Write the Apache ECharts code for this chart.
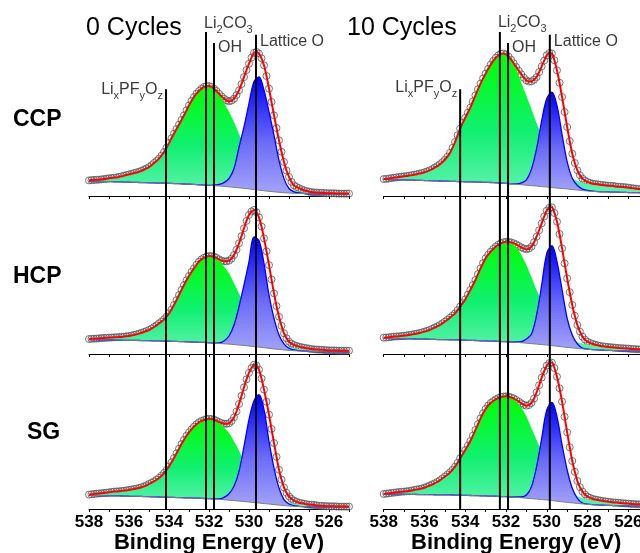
<!DOCTYPE html>
<html><head><meta charset="utf-8">
<script src="https://cdn.jsdelivr.net/npm/echarts@6/dist/echarts.min.js"></script>
<style>html,body{margin:0;padding:0;background:#fff}#c{width:640px;height:553px}</style>
</head><body><div id="c"></div>
<script>
// ---------------- data ----------------
// energy grid of the fitted components (eV)
const energy = [538,537.75,537.5,537.25,537,536.75,536.5,536.25,536,535.75,535.5,535.25,535,534.75,534.5,534.25,534,533.75,533.5,533.25,533,532.75,532.5,532.25,532,531.75,531.5,531.25,531,530.75,530.5,530.25,530,529.75,529.5,529.25,529,528.75,528.5,528.25,528,527.75,527.5,527.25,527,526.75,526.5,526.25,526,525.75,525.5,525.25,525];
// energy grid of the measured points (eV)
const energyMeas = [538,537.875,537.75,537.625,537.5,537.375,537.25,537.125,537,536.875,536.75,536.625,536.5,536.375,536.25,536.125,536,535.875,535.75,535.625,535.5,535.375,535.25,535.125,535,534.875,534.75,534.625,534.5,534.375,534.25,534.125,534,533.875,533.75,533.625,533.5,533.375,533.25,533.125,533,532.875,532.75,532.625,532.5,532.375,532.25,532.125,532,531.875,531.75,531.625,531.5,531.375,531.25,531.125,531,530.875,530.75,530.625,530.5,530.375,530.25,530.125,530,529.875,529.75,529.625,529.5,529.375,529.25,529.125,529,528.875,528.75,528.625,528.5,528.375,528.25,528.125,528,527.875,527.75,527.625,527.5,527.375,527.25,527.125,527,526.875,526.75,526.625,526.5,526.375,526.25,526.125,526,525.875,525.75,525.625,525.5,525.375,525.25,525.125,525];

// CCP, 0 cycles
const measA = [10.4,10.6,10.7,10.8,10.9,11.1,11.3,11.5,11.8,12.0,12.2,12.4,12.7,13.1,13.6,14.0,14.4,14.8,15.3,15.7,16.2,16.8,17.6,18.4,19.3,20.5,22.0,23.3,24.9,26.9,29.3,32.2,35.3,38.5,41.6,44.6,47.6,50.7,53.8,57.1,60.4,63.4,66.0,68.2,70.0,71.6,72.7,73.2,73.3,72.7,71.6,70.0,68.2,66.4,64.9,63.8,63.1,63.6,64.9,67.3,70.4,74.6,79.3,84.0,88.2,92.3,95.5,96.0,95.0,91.8,87.1,80.0,71.6,62.7,53.8,45.3,37.1,29.5,22.7,17.0,12.7,9.4,7.1,6.0,5.3,4.5,3.8,3.3,2.9,2.6,2.4,2.3,2.2,2.1,2.0,1.9,1.8,1.8,1.8,1.7,1.6,1.6,1.6,1.6,1.6];
const bgA = [10.0,9.9,9.8,9.7,9.6,9.5,9.4,9.3,9.2,9.1,9.0,8.9,8.8,8.7,8.6,8.5,8.4,8.3,8.2,8.0,7.9,7.7,7.5,7.3,7.1,6.9,6.7,6.4,6.1,5.8,5.5,5.1,4.7,4.3,3.9,3.5,3.1,2.8,2.5,2.2,2.0,1.8,1.7,1.6,1.5,1.5,1.5,1.5,1.4,1.4,1.4,1.4,1.4];
const greenA = [0.4,0.8,1.1,1.6,2.2,2.7,3.3,4.3,5.2,6.2,7.2,8.7,10.5,13.3,16.3,20.8,26.9,33.3,39.4,45.8,52.5,58.3,62.5,65.4,66.2,64.5,61.5,56,50,43.5,36,29,22,16,11,8,6,4.5,3.5,2.8,2.2,1.7,1.3,1.0,0.8,0.6,0.5,0.4,0.3,0.2,0.2,0.1,0.1];
const blueA = [0,0,0,0,0,0,0,0,0,0,0,0,0,0,0,0,0,0,0,0,0,0,0,0,0,0.3,1.0,2.5,5.5,12.5,27,41,57,72,75.5,67,53,37.6,21.3,9.4,3.0,1.0,0.4,0.1,0,0,0,0,0,0,0,0,0];

// CCP, 10 cycles
const measB = [11.3,11.4,11.6,11.9,12.2,12.4,12.7,12.9,13.1,13.3,13.6,13.9,14.2,14.5,14.9,15.3,15.8,16.4,17.1,17.9,18.9,19.9,21.1,22.5,24.2,26.2,28.7,32.1,36.0,40.5,44.9,48.7,52.2,55.5,58.9,63.0,67.1,71.1,74.9,78.4,81.6,84.8,87.6,90.1,92.2,93.8,94.9,95.0,94.4,92.9,90.9,88.5,86.0,83.5,81.1,78.9,77.1,76.3,76.4,77.5,79.3,82.6,86.4,90.3,93.8,95.3,95.0,90.5,83.8,75.5,66.0,56.0,46.0,36.6,28.2,22.0,17.1,13.9,11.6,10.3,9.3,8.7,8.2,8.0,7.8,7.5,7.3,7.1,6.9,6.8,6.7,6.4,6.2,6.1,6.0,5.8,5.6,5.3,5.1,4.9,4.7,4.5,4.4,4.3,4.2];
const bgB = [11.1,11.0,10.9,10.8,10.7,10.6,10.5,10.4,10.3,10.2,10.1,10.0,9.9,9.8,9.7,9.6,9.5,9.4,9.3,9.2,9.1,9.0,8.8,8.6,8.4,8.1,7.8,7.5,7.2,6.9,6.6,6.3,6.0,5.6,5.3,5.0,4.7,4.3,4.0,3.6,3.3,3.1,2.9,2.8,2.7,2.6,2.5,2.4,2.3,2.2,2.2,2.1,2.1];
const greenB = [0.2,0.6,1.3,1.9,2.4,3.0,3.7,4.5,5.5,6.9,8.8,11.1,14.3,18.9,26.3,35.3,42.7,49.5,57.8,65.7,72.5,78.6,83.4,86.3,86.0,82,77,68,59.5,51,42,34,27,21,16,12,9.5,7.5,6.2,5.3,4.8,4.4,4.1,3.8,3.6,3.4,3.1,2.9,2.7,2.4,2.1,1.9,1.7];
const blueB = [0,0,0,0,0,0,0,0,0,0,0,0,0,0,0,0,0,0,0,0,0,0,0,0,0,0,0.3,1.2,3.5,11,25,44,59,63.7,55,36,18,7.5,3.0,1.0,0.4,0.1,0,0,0,0,0,0,0,0,0,0,0];

// HCP, 0 cycles
const measC = [10.0,10.1,10.2,10.3,10.4,10.6,10.7,10.8,10.9,11.0,11.1,11.2,11.3,11.4,11.6,11.8,12.0,12.3,12.7,13.1,13.6,14.1,14.7,15.3,16.0,16.9,18.0,19.1,20.4,21.6,23.1,24.9,27.1,29.7,32.7,35.9,39.3,42.7,46.0,49.1,52.0,54.7,57.1,59.5,61.6,63.1,64.2,64.9,65.3,65.2,64.9,64.1,63.1,62.3,61.8,61.8,62.2,63.6,66.0,69.5,73.8,78.6,83.8,88.7,92.7,95.0,96.0,94.5,91.1,85.0,77.1,68.5,59.3,49.7,40.4,32.0,24.9,18.8,13.8,10.5,8.2,6.9,6.0,5.4,4.9,4.5,4.2,3.9,3.6,3.3,3.1,3.0,2.9,2.8,2.7,2.5,2.4,2.4,2.4,2.3,2.2,2.2,2.2,2.2,2.2];
const bgC = [9.6,9.55,9.5,9.4,9.35,9.3,9.2,9.15,9.1,9.05,9.0,8.9,8.85,8.8,8.7,8.6,8.5,8.4,8.3,8.2,8.1,7.9,7.8,7.7,7.5,7.3,7.1,6.8,6.6,6.3,6.0,5.7,5.3,5.0,4.6,4.2,3.8,3.4,3.1,2.7,2.4,2.2,2.0,1.9,1.8,1.7,1.6,1.5,1.5,1.4,1.4,1.3,1.3];
const greenC = [0.4,0.65,0.9,1.3,1.55,1.8,2.1,2.45,2.9,3.65,4.6,5.8,7.15,9.2,11.7,14.5,18.6,24.3,31.0,37.8,43.9,49.2,53.8,56.5,57.8,57.6,55.5,51.5,47.2,40.8,34.4,28,22,16,11.5,8.5,6.5,5.0,3.8,3.0,2.3,1.8,1.4,1.1,0.9,0.8,0.7,0.6,0.5,0.5,0.4,0.4,0.4];
const blueC = [0,0,0,0,0,0,0,0,0,0,0,0,0,0,0,0,0,0,0,0,0,0,0,0,0,0,0.3,1.9,5.4,13,25.6,40.3,56.3,73,71,56.2,35.5,20.4,9.6,4.0,1.4,0.5,0.2,0,0,0,0,0,0,0,0,0,0];

// HCP, 10 cycles
const measD = [10.9,11.0,11.1,11.4,11.6,11.7,11.8,12.0,12.2,12.4,12.7,13.0,13.3,13.6,14.0,14.4,14.9,15.4,16.0,16.8,17.6,18.4,19.3,20.4,21.6,22.8,24.2,25.6,27.1,29.2,31.6,33.9,36.4,39.5,42.7,46.0,49.3,53.2,57.1,60.6,63.8,66.2,68.2,70.0,71.6,72.9,73.8,74.5,74.9,74.8,74.4,73.8,73.1,72.1,71.1,70.3,69.8,70.3,71.6,74.5,78.2,82.5,87.1,91.7,95.6,97.4,97.8,94.0,88.2,80.0,70.4,60.4,50.4,41.2,32.7,25.5,19.3,14.9,11.6,9.6,8.2,7.3,6.7,6.2,5.8,5.4,5.1,4.9,4.7,4.5,4.4,4.2,4.0,3.9,3.8,3.7,3.6,3.4,3.3,3.2,3.1,3.1,3.1,3.0,2.9];
const bgD = [10.4,10.35,10.3,10.2,10.15,10.1,10.0,9.9,9.85,9.8,9.7,9.6,9.55,9.5,9.4,9.3,9.2,9.1,9.0,8.8,8.7,8.6,8.5,8.3,8.2,8.0,7.8,7.5,7.2,6.9,6.6,6.3,6.0,5.6,5.2,4.8,4.4,4.1,3.7,3.4,3.1,2.9,2.7,2.5,2.4,2.3,2.2,2.1,2.0,1.9,1.9,1.8,1.8];
const greenD = [0.5,0.75,1.3,1.6,2.05,2.6,3.3,4.1,5.05,6.2,7.9,9.7,12.05,14.7,17.7,22.3,27.2,33.6,40.3,48.3,55.1,59.6,63.1,65.5,66.7,66.0,63.3,58.5,52.1,44.2,36.1,29,22,16,11.5,8.5,6.5,5.0,4.2,3.6,3.2,2.9,2.6,2.3,2.1,1.9,1.7,1.5,1.4,1.3,1.2,1.1,1.0];
const blueD = [0,0,0,0,0,0,0,0,0,0,0,0,0,0,0,0,0,0,0,0,0,0,0,0,0,0,0.2,0.7,2.8,6.4,19.4,39.7,61.1,66.6,56.4,37.9,19.4,8.6,3.0,0.6,0.2,0,0,0,0,0,0,0,0,0,0,0,0];

// SG, 0 cycles
const measE = [9.6,9.8,10.0,10.2,10.4,10.5,10.7,10.9,11.1,11.4,11.6,11.7,11.8,12.0,12.2,12.4,12.7,13.0,13.3,13.6,14.0,14.5,15.1,15.8,16.7,17.5,18.4,19.5,20.7,22.2,24.0,26.0,28.4,31.1,34.0,37.1,40.2,43.3,46.2,48.8,51.1,53.1,54.9,56.5,57.8,58.7,59.3,59.9,60.2,60.0,59.6,58.8,58.0,57.3,56.9,56.8,57.1,58.6,61.1,65.0,70.0,75.5,81.1,86.4,90.7,94.0,96.2,95.6,92.9,87.0,79.6,71.5,62.9,53.4,44.0,34.8,26.2,19.6,14.4,10.8,8.4,6.8,5.6,4.8,4.2,3.9,3.6,3.2,2.9,2.8,2.7,2.4,2.2,2.1,2.0,1.9,1.8,1.8,1.8,1.7,1.6,1.6,1.6,1.6,1.6];
const bgE = [9.1,9.05,9.0,8.9,8.8,8.75,8.7,8.6,8.5,8.45,8.4,8.3,8.2,8.1,8.0,7.9,7.8,7.7,7.6,7.5,7.4,7.3,7.2,7.0,6.9,6.7,6.4,6.2,5.9,5.6,5.3,5.0,4.7,4.3,4.0,3.6,3.3,3.0,2.6,2.3,2.0,1.8,1.7,1.6,1.5,1.4,1.3,1.3,1.2,1.2,1.1,1.1,1.1];
const greenE = [0.5,0.95,1.4,1.8,2.3,2.85,3.1,3.6,4.2,4.85,5.6,6.8,8.5,10.3,12.7,16.1,20.6,26.3,32.6,38.7,43.7,47.6,50.6,52.3,53.3,52.9,50.9,48.2,44.8,39.5,33.6,27,21,15.5,11,8,6,4.6,3.6,2.8,2.2,1.8,1.4,1.1,0.9,0.8,0.7,0.6,0.5,0.5,0.4,0.4,0.4];
const blueE = [0,0,0,0,0,0,0,0,0,0,0,0,0,0,0,0,0,0,0,0,0,0,0,0,0,0,0.3,1.6,4.3,9.5,19.8,36.8,54.9,67.9,72.2,62.6,41.8,24.3,11.4,3.9,1.3,0.4,0.1,0,0,0,0,0,0,0,0,0,0];

// SG, 10 cycles
const measF = [10.0,10.2,10.4,10.7,10.9,11.1,11.3,11.5,11.6,11.8,12.0,12.3,12.7,13.0,13.3,13.7,14.2,14.9,15.6,16.3,17.1,18.0,19.1,20.3,21.6,22.9,24.4,26.1,28.2,30.8,33.8,36.5,39.3,42.2,45.3,48.9,52.7,56.6,60.4,63.8,66.7,69.0,70.7,72.0,73.1,74.0,74.7,75.0,75.1,74.9,74.4,73.7,72.7,71.6,70.4,69.4,68.9,69.3,70.7,73.6,77.8,82.5,87.6,92.0,95.6,97.3,97.6,94.0,88.2,80.5,71.6,61.5,51.1,41.2,32.0,24.8,18.7,14.6,11.6,9.7,8.2,7.4,6.7,6.3,6.0,5.6,5.3,5.1,4.9,4.6,4.4,4.3,4.2,4.0,3.8,3.7,3.6,3.4,3.3,3.2,3.1,3.1,3.1,3.0,2.9];
const bgF = [10.0,9.95,9.9,9.85,9.8,9.75,9.7,9.65,9.6,9.55,9.5,9.45,9.4,9.35,9.3,9.2,9.1,9.0,8.9,8.8,8.7,8.6,8.5,8.3,8.2,8.0,7.8,7.5,7.2,6.9,6.6,6.3,6.0,5.6,5.2,4.8,4.4,4.1,3.7,3.4,3.1,2.9,2.7,2.5,2.4,2.3,2.2,2.1,2.0,1.9,1.9,1.8,1.8];
const greenF = [0,0.45,1.0,1.45,1.8,2.25,3.0,3.65,4.6,6.05,7.6,9.65,12.2,15.05,18.9,24.6,30.2,36.3,43.8,51.6,58.0,62.1,64.6,66.4,66.9,66.4,63.8,60.1,54.4,46.9,39.4,32,25,19,14,10.5,8,6.2,4.8,4.0,3.5,3.2,3.0,2.7,2.5,2.3,2.2,1.9,1.8,1.5,1.3,1.3,1.1];
const blueF = [0,0,0,0,0,0,0,0,0,0,0,0,0,0,0,0,0,0,0,0,0,0,0,0,0,0,0.2,0.5,2.1,8,21.6,40.8,60,65.5,56.4,37.9,21.6,9.7,3.4,0.6,0.2,0,0,0,0,0,0,0,0,0,0,0,0];

const rowLabels = ['CCP', 'HCP', 'SG'];
const colTitles = ['0 Cycles', '10 Cycles'];
const xAxisTitle = 'Binding Energy (eV)';
// reference lines: LixPFyOz, Li2CO3, OH, Lattice O
const refLineE_left = [534.15, 532.15, 531.75, 529.65];
const refLineE_right = [534.25, 532.3, 531.9, 529.85];
const refLineTop = [0.88, 1.0, 0.977, 0.994];
const refLabels = ['{n|Li}{s|x}{n|PF}{s|y}{n|O}{s|z}', '{n|Li}{s|2}{n|CO}{s|3}', '{n|OH}', '{n|Lattice O}'];

// ---------------- layout ----------------
const FONT = "'Liberation Sans', Arial, Helvetica, sans-serif";
const colLeft = [89, 383.7];
const colWidth = [260, 265];
const rowBottom = [196, 354, 509];
const GRID_H = 150;

const panels = [
  {r:0, c:0, meas:measA, bg:bgA, green:greenA, blue:blueA},
  {r:0, c:1, meas:measB, bg:bgB, green:greenB, blue:blueB},
  {r:1, c:0, meas:measC, bg:bgC, green:greenC, blue:blueC},
  {r:1, c:1, meas:measD, bg:bgD, green:greenD, blue:blueD},
  {r:2, c:0, meas:measE, bg:bgE, green:greenE, blue:blueE},
  {r:2, c:1, meas:measF, bg:bgF, green:greenF, blue:blueF}
];

const greenGrad = {type:'linear', x:0, y:0, x2:0, y2:1, colorStops:[{offset:0, color:'#00ff00'},{offset:0.55, color:'#10f070'},{offset:1, color:'#60f2b0'}]};
const blueGrad = {type:'linear', x:0, y:0, x2:0, y2:1, colorStops:[{offset:0, color:'#0000ff'},{offset:0.55, color:'#6a6af8'},{offset:1, color:'#a4a4fa'}]};

const grid = [], xAxis = [], yAxis = [], series = [];
const cats = energy.map(String);
panels.forEach((p, i) => {
  grid.push({left: colLeft[p.c], top: rowBottom[p.r] - GRID_H, width: colWidth[p.c], height: GRID_H, outerBoundsMode: 'none', containLabel: false});
  const bottomRow = p.r === 2;
  const xa = xAxis.length;
  xAxis.push({
    gridIndex: i, type: 'category', data: cats, boundaryGap: false,
    axisLine: {show: true, onZero: false, lineStyle: {color: '#000', width: 1}},
    axisTick: {show: true, interval: 3, length: 3, lineStyle: {color: '#000', width: 1}},
    splitLine: {show: false},
    axisLabel: {show: bottomRow, interval: 7, margin: 5, color: '#000', fontSize: 17, fontWeight: 'bold', fontFamily: FONT},
    name: bottomRow ? xAxisTitle : '', nameLocation: 'middle', nameGap: 22,
    nameTextStyle: {fontSize: 22, fontWeight: 'bold', color: '#000', fontFamily: FONT}
  });
  xAxis.push({gridIndex: i, type: 'value', min: 525, max: 538, inverse: true, show: false});
  yAxis.push({gridIndex: i, type: 'value', min: 0, max: 100, show: false});
  const common = {xAxisIndex: xa, yAxisIndex: i, symbol: 'none', smooth: 0.35, animation: false, clip: false};
  series.push(Object.assign({}, common, {type: 'line', stack: 'g' + i, data: p.bg, lineStyle: {opacity: 0, width: 0}}));
  series.push(Object.assign({}, common, {type: 'line', stack: 'g' + i, data: p.green, lineStyle: {opacity: 0, width: 0}, areaStyle: {color: greenGrad, opacity: 1}}));
  series.push(Object.assign({}, common, {type: 'line', stack: 'b' + i, data: p.bg, lineStyle: {opacity: 0, width: 0}}));
  series.push(Object.assign({}, common, {type: 'line', stack: 'b' + i, data: p.blue, lineStyle: {color: '#0000ff', width: 1.3}, areaStyle: {color: blueGrad, opacity: 1}}));
  series.push(Object.assign({}, common, {type: 'line', data: p.bg, lineStyle: {color: '#808080', width: 1}}));
  const meas = energyMeas.map((e, k) => [e, p.meas[k]]);
  series.push({type: 'scatter', xAxisIndex: xa + 1, yAxisIndex: i, data: meas, symbol: 'circle', symbolSize: 7, clip: false, animation: false,
    itemStyle: {color: 'rgba(255,255,255,0)', borderColor: '#555555', borderWidth: 1}});
  series.push({type: 'line', xAxisIndex: xa + 1, yAxisIndex: i, data: meas, symbol: 'none', smooth: 0.3, clip: false, animation: false,
    lineStyle: {color: '#ff0000', width: 2}});
});

// overlay grids for the reference lines spanning each column
const OV_TOP = 32, OV_BOTTOM = 509;
const ovAxis = [];
[0, 1].forEach(c => {
  const gi = grid.length;
  grid.push({left: colLeft[c], top: OV_TOP, width: colWidth[c], height: OV_BOTTOM - OV_TOP, outerBoundsMode: 'none', containLabel: false});
  const xa = xAxis.length, ya = yAxis.length;
  ovAxis.push(xa);
  xAxis.push({gridIndex: gi, type: 'value', min: 525, max: 538, inverse: true, show: false});
  yAxis.push({gridIndex: gi, type: 'value', min: 0, max: 1, show: false});
  const es = c === 0 ? refLineE_left : refLineE_right;
  es.forEach((e, k) => {
    series.push({type: 'line', xAxisIndex: xa, yAxisIndex: ya, data: [[e, 0], [e, refLineTop[k]]], symbol: 'none', z: 6,
      animation: false, clip: false, lineStyle: {color: '#000', width: 2}});
  });
});

const graphic = [];
colTitles.forEach((t, c) => {
  graphic.push({type: 'text', left: c === 0 ? 86 : 347, top: 16, style: {text: t, fontSize: 25, fontFamily: FONT, fill: '#000'}});
});
const rowLabelX = [13, 13, 27];
const rowLabelY = [120, 277, 433];
rowLabels.forEach((t, r) => {
  graphic.push({type: 'text', x: rowLabelX[r], y: rowLabelY[r], style: {text: t, fontSize: 23, fontWeight: 'bold', fontFamily: FONT, fill: '#000', verticalAlign: 'middle', align: 'left'}});
});

const chart = echarts.init(document.getElementById('c'), null, {renderer: 'canvas'});
chart.setOption({animation: false, backgroundColor: '#fff', grid, xAxis, yAxis, series, graphic});

// labels of reference lines, placed from the axis scale
const labelAlign = ['right', 'left', 'left', 'left'];
const labelDx = [-3, -2, 4, 4];
const labelBase = [[95, 29, 53, 47], [93, 28, 53, 47]];
const rich = {
  n: {fontSize: 16, lineHeight: 24, fontFamily: FONT, fill: '#3a3a3a'},
  s: {fontSize: 11, lineHeight: 11, fontFamily: FONT, fill: '#3a3a3a', verticalAlign: 'bottom'}
};
[0, 1].forEach(c => {
  const es = c === 0 ? refLineE_left : refLineE_right;
  es.forEach((e, k) => {
    const px = chart.convertToPixel({xAxisIndex: ovAxis[c]}, e);
    graphic.push({type: 'text', x: px + labelDx[k], y: labelBase[c][k] - 17.6,
      style: {text: refLabels[k], rich: rich, align: labelAlign[k], verticalAlign: 'top', fill: '#3a3a3a', fontSize: 16, fontFamily: FONT}});
  });
});
chart.setOption({graphic});
</script></body></html>
